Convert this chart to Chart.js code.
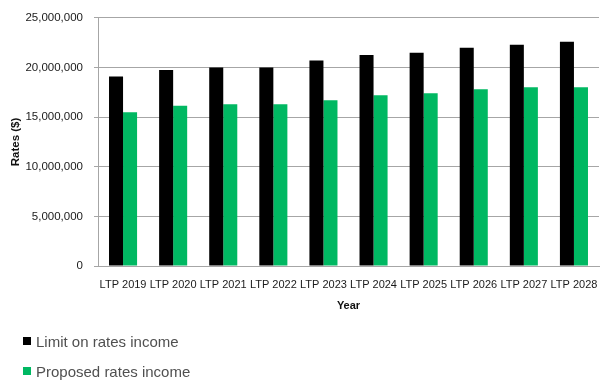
<!DOCTYPE html>
<html>
<head>
<meta charset="utf-8">
<script src="https://cdn.jsdelivr.net/npm/chart.js@4"></script>
<style>
  html, body { margin: 0; padding: 0; background: #ffffff; }
  #wrap { position: relative; width: 600px; height: 381px; }
  #chart { position: absolute; left: 0; top: 0; }
  .legend { position: absolute; left: 23px; font-family: "Liberation Sans", Arial, sans-serif;
            font-size: 15px; color: #505050; display: flex; align-items: center; height: 16px; }
  .legend span.box { display: inline-block; width: 8px; height: 8px; margin-right: 5px; }
  .legend span.txt { filter: blur(0.5px); }
</style>
</head>
<body>
<div id="wrap">
  <canvas id="chart" width="600" height="381"></canvas>
  <div class="legend" style="top:333px"><span class="box" style="background:#000000"></span><span class="txt" id="lt1"></span></div>
  <div class="legend" style="top:363px"><span class="box" style="background:#00b862"></span><span class="txt" id="lt2"></span></div>
</div>
<script>
// Rates income per long-term plan year
const categories = ['LTP 2019', 'LTP 2020', 'LTP 2021', 'LTP 2022', 'LTP 2023',
                    'LTP 2024', 'LTP 2025', 'LTP 2026', 'LTP 2027', 'LTP 2028'];
const limitOnRates = [19100000, 19750000, 20000000, 20000000, 20700000,
                      21250000, 21500000, 22000000, 22300000, 22600000];
const proposedRates = [15500000, 16150000, 16300000, 16300000, 16700000,
                       17200000, 17400000, 17800000, 18000000, 18000000];
const seriesNames = ['Limit on rates income', 'Proposed rates income'];
const seriesColors = ['#000000', '#00b862'];

document.getElementById('lt1').textContent = seriesNames[0];
document.getElementById('lt2').textContent = seriesNames[1];

const font = { family: '"Liberation Sans", Arial, sans-serif', size: 11 };
const gridGrey = '#a6a6a6';

new Chart(document.getElementById('chart'), {
  type: 'bar',
  data: {
    labels: categories,
    datasets: [
      { label: seriesNames[0], data: limitOnRates, backgroundColor: seriesColors[0],
        barPercentage: 1.0, categoryPercentage: 0.56 },
      { label: seriesNames[1], data: proposedRates, backgroundColor: seriesColors[1],
        barPercentage: 1.0, categoryPercentage: 0.56 }
    ]
  },
  options: {
    responsive: false,
    animation: false,
    layout: { padding: { top: 15, right: 1, bottom: 68, left: 0 } },
    plugins: { legend: { display: false }, tooltip: { enabled: false } },
    scales: {
      x: {
        grid: { display: false, drawTicks: false },
        border: { display: true, color: gridGrey },
        ticks: { font: font, color: '#1a1a1a', padding: 12, maxRotation: 0, autoSkip: false },
        title: { display: true, text: 'Year', font: { ...font, weight: 'bold' }, color: '#111111',
                 padding: { top: 0, bottom: 0 } },
        afterFit: (s) => { s.height = 47; s.paddingLeft = 0; s.paddingRight = 0; }
      },
      y: {
        min: 0, max: 25000000,
        ticks: { stepSize: 5000000, font: { ...font, size: 11.5 }, color: '#1a1a1a', padding: 11,
                 callback: (v) => v.toLocaleString('en-US') },
        grid: { color: gridGrey, tickLength: 4, drawTicks: true },
        border: { display: true, color: gridGrey },
        title: { display: true, text: 'Rates ($)', font: { ...font, size: 11.5, weight: 'bold' }, color: '#111111',
                 padding: { top: 9, bottom: 0 } },
        afterFit: (s) => { s.width = 98; }
      }
    }
  }
});
</script>
</body>
</html>
